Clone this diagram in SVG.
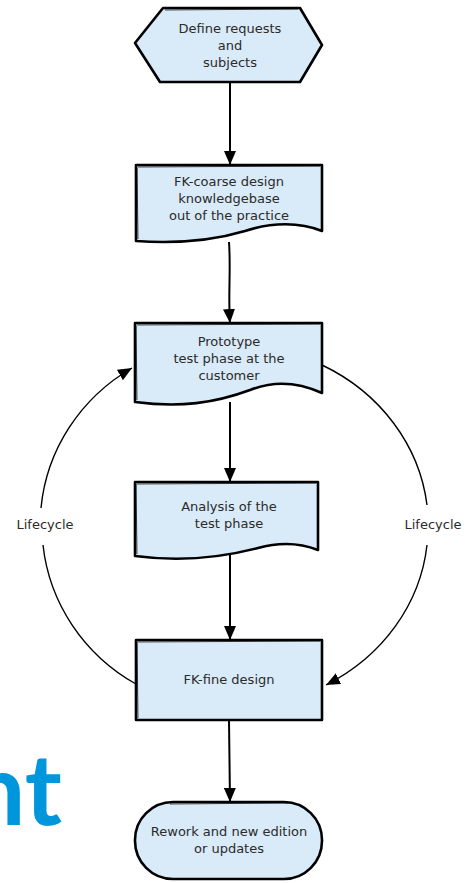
<svg xmlns="http://www.w3.org/2000/svg" width="473" height="883" viewBox="0 0 473 883">
<style>
.shape{fill:#d9eaf8;stroke:#000;stroke-width:2.6;stroke-linejoin:round}
.sk{fill:none;stroke:#000;stroke-width:1;opacity:0.7}
.lbl{font-family:"DejaVu Sans","Liberation Sans",sans-serif;font-size:13px;fill:#2b2b2b;text-anchor:middle}
.conn{fill:none;stroke:#000;stroke-width:2}
.arc{fill:none;stroke:#000;stroke-width:1.4}
</style>
<defs>
<marker id="ah" viewBox="0 0 14 12" refX="14" refY="6" markerWidth="14" markerHeight="12" markerUnits="userSpaceOnUse" orient="auto">
<path d="M0,0 L14,6 L0,12 Z" fill="#000"/>
</marker>
</defs>
<text x="62" y="825" font-family="Lato,sans-serif" font-weight="bold" font-size="100" fill="#0096db" text-anchor="end">nt</text>
<g id="connectors">
<line class="conn" x1="230" y1="82" x2="230" y2="165" marker-end="url(#ah)"/>
<path class="conn" d="M229,242 C231,270 228,295 230,323" marker-end="url(#ah)"/>
<line class="conn" x1="230" y1="402" x2="230" y2="482" marker-end="url(#ah)"/>
<line class="conn" x1="230" y1="555" x2="230" y2="640" stroke-width="2.6" marker-end="url(#ah)"/>
<line class="conn" x1="229" y1="720" x2="230" y2="802" marker-end="url(#ah)"/>
<path class="arc" stroke-width="1" d="M41,508 A189 183 0 0 1 132,368" marker-end="url(#ah)"/>
<path class="arc" stroke-width="2" d="M136,684 A189 183 0 0 1 43,545"/>
<path class="arc" stroke-width="2" d="M322,365 A197 181 0 0 1 427,505"/>
<path class="arc" stroke-width="1.3" d="M427,545 A197 181 0 0 1 326,685" marker-end="url(#ah)"/>
<text class="lbl" x="45" y="529">Lifecycle</text>
<text class="lbl" x="433" y="529">Lifecycle</text>
</g>
<g id="n1">
<path class="shape" d="M163,8 L300,8 L322,45 L300,82 L160,82 L135,43 Z"/>
<path class="sk" d="M165,10 L298,9 M137,45 L158,80"/>
<text class="lbl" x="230" y="33">Define requests</text>
<text class="lbl" x="230" y="50">and</text>
<text class="lbl" x="230" y="67">subjects</text>
</g>
<g id="n2">
<path class="shape" d="M136,165 L322,165 L322,231 C300,222 272,222 245,231 C215,240 180,244 136,241 Z"/>
<path class="sk" d="M138,167 L320,166 M138,239 L137,168"/>
<text class="lbl" x="229" y="186">FK-coarse design</text>
<text class="lbl" x="229" y="203">knowledgebase</text>
<text class="lbl" x="229" y="220">out of the practice</text>
</g>
<g id="n3">
<path class="shape" d="M135,323 L322,323 L322,393 C300,383 275,380 250,390 C215,403 180,408 135,402 Z"/>
<path class="sk" d="M137,325 L320,324 M137,400 L136,326"/>
<text class="lbl" x="229" y="346">Prototype</text>
<text class="lbl" x="229" y="363">test phase at the</text>
<text class="lbl" x="229" y="380">customer</text>
</g>
<g id="n4">
<path class="shape" d="M135,482 L318,482 L318,550 C300,543 280,542 258,548 C220,558 180,562 135,556 Z"/>
<path class="sk" d="M137,484 L316,483 M137,554 L136,484"/>
<text class="lbl" x="229" y="511">Analysis of the</text>
<text class="lbl" x="229" y="528">test phase</text>
</g>
<g id="n5">
<rect class="shape" x="136" y="640" width="186" height="80"/>
<path class="sk" d="M138,642 L320,641 M138,718 L137,642"/>
<text class="lbl" x="229" y="684">FK-fine design</text>
</g>
<g id="n6">
<rect class="shape" x="135" y="802" width="187" height="77" rx="38" ry="38"/>
<path class="sk" d="M170,804 L288,803"/>
<text class="lbl" x="229" y="836">Rework and new edition</text>
<text class="lbl" x="229" y="853">or updates</text>
</g>
</svg>
